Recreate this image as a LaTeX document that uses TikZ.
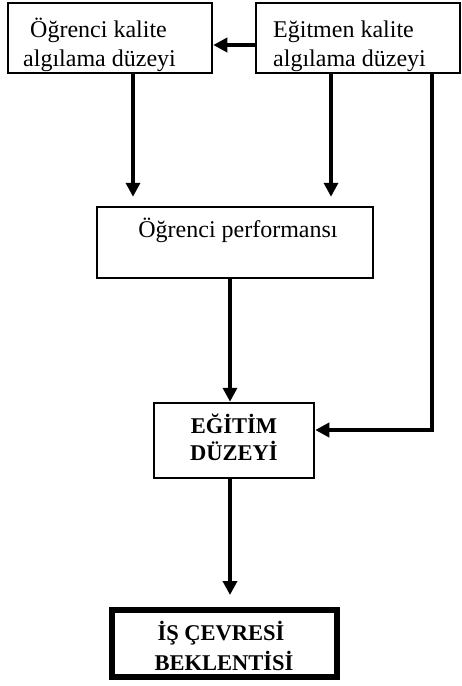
\documentclass[tikz,border=0pt]{standalone}
\usepackage{fontspec}
\setmainfont{Liberation Serif}
\usetikzlibrary{arrows.meta}
\begin{document}
\begin{tikzpicture}[x=1pt,y=-1pt,
  box/.style={draw,line width=2.5pt,inner sep=0pt},
  conn/.style={line width=4pt},
  arr/.style={conn,-{Triangle[width=14pt,length=14pt]}},
  txt/.style={font=\fontsize{24}{29}\selectfont,inner sep=0pt,anchor=base west},
  ctxt/.style={font=\fontsize{24}{29}\selectfont,inner sep=0pt,anchor=base},
  btxt/.style={font=\bfseries\fontsize{22.5}{27}\selectfont,inner sep=0pt,anchor=base}]
\useasboundingbox (0,0) rectangle (462,686);
% boxes
\node[box,minimum width=204pt,minimum height=70pt] (b1) at (110,38) {};
\node[box,minimum width=204pt,minimum height=70pt] (b2) at (358,38) {};
\node[box,minimum width=276pt,minimum height=71pt] (b3) at (235,242.5) {};
\node[box,minimum width=160pt,minimum height=75pt] (b4) at (234,440.5) {};
\node[box,line width=6pt,minimum width=225pt,minimum height=67pt] (b5) at (224.5,643.5) {};
% texts
\node[txt] (t1a) at (30,37) {Öğrenci kalite};
\node[txt] (t1b) at (23,66) {algılama düzeyi};
\node[txt] (t2a) at (273,37) {Eğitmen kalite};
\node[txt] (t2b) at (273,66) {algılama düzeyi};
\node[ctxt] (t3) at (238,237) {Öğrenci performansı};
\node[btxt] (t4a) at (234,433) {EĞİTİM};
\node[btxt] (t4b) at (234,460) {DÜZEYİ};
\node[btxt] (t5a) at (221,640) {İŞ ÇEVRESİ};
\node[btxt] (t5b) at (224,670) {BEKLENTİSİ};
% connectors
\draw[arr] (b2.west |- 0,45) -- (b1.east |- 0,45);
\draw[arr,shorten >=9pt] (b1.south -| 133,0) -- (b3.north -| 133,0);
\draw[arr,shorten >=9pt] (b2.south -| 331,0) -- (b3.north -| 331,0);
\draw[arr] (b3.south -| 230,0) -- (b4.north -| 230,0);
\draw[arr] (b2.south -| 432,0) |- (b4.east |- 0,430);
\draw[arr,shorten >=12pt] (b4.south -| 230,0) -- (b5.north -| 230,0);
\end{tikzpicture}
\end{document}
